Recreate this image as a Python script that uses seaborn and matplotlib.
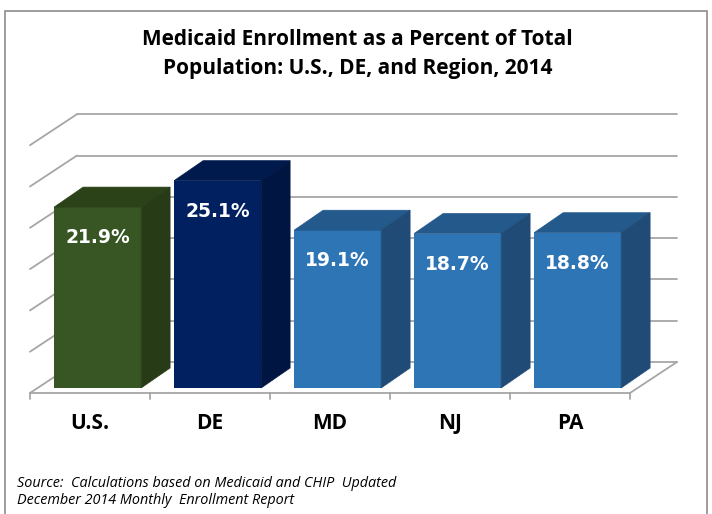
import matplotlib
matplotlib.use("Agg")
import matplotlib.pyplot as plt
import seaborn as sns
import pandas as pd
from matplotlib.patches import Polygon, Rectangle

# data
categories = ["U.S.", "DE", "MD", "NJ", "PA"]
values = [21.9, 25.1, 19.1, 18.7, 18.8]
value_labels = ["21.9%", "25.1%", "19.1%", "18.7%", "18.8%"]
y_ticks = [0, 5, 10, 15, 20, 25, 30]

title = "Medicaid Enrollment as a Percent of Total\nPopulation: U.S., DE, and Region, 2014"
source = "Source:  Calculations based on Medicaid and CHIP  Updated\nDecember 2014 Monthly  Enrollment Report"

# colours: front, top, side
front_colors = ["#375623", "#002060", "#2e75b6", "#2e75b6", "#2e75b6"]
top_colors = ["#2b4219", "#001a4e", "#24598c", "#24598c", "#24598c"]
side_colors = ["#263b16", "#001542", "#1f4b76", "#1f4b76", "#1f4b76"]
grid_color = "#a6a6a6"

sns.set_theme(style="white")
plt.rcParams["font.family"] = ["Open Sans", "DejaVu Sans"]

W, H = 712, 514
fig = plt.figure(figsize=(W / 100, H / 100), dpi=100)

# axes = front plane of the bars (pixel layout of the reference)
px_per_cat = 120.0
px_per_pct = 8.26
ax_left, ax_zero = 37.6, 388.0
ax = fig.add_axes([ax_left / W, (H - ax_zero) / H,
                   5 * px_per_cat / W, 30 * px_per_pct / H])

# depth offsets (data units)
back_dx, back_dy = 39.4 / px_per_cat, 26.0 / px_per_pct     # back wall
floor_dx, floor_dy = -7.6 / px_per_cat, -5.0 / px_per_pct   # front edge of floor
bar_dx, bar_dy = 29.0 / px_per_cat, 20.0 / px_per_pct       # bar depth

df = pd.DataFrame({"state": categories, "pct": values})

# back wall gridlines + left wall
for v in y_ticks:
    ax.plot([-0.5 + back_dx, 4.5 + back_dx], [v + back_dy, v + back_dy],
            color=grid_color, lw=1.3, clip_on=False, zorder=1)
    ax.plot([-0.5 + floor_dx, -0.5 + back_dx], [v + floor_dy, v + back_dy],
            color=grid_color, lw=1.3, clip_on=False, zorder=1)

# floor edges
ax.plot([-0.5 + floor_dx, 4.5 + floor_dx], [floor_dy, floor_dy],
        color=grid_color, lw=1.3, clip_on=False, zorder=1)
ax.plot([4.5 + floor_dx, 4.5 + back_dx], [floor_dy, back_dy],
        color=grid_color, lw=1.3, clip_on=False, zorder=1)
for i in range(len(categories) + 1):
    x = -0.5 + i + floor_dx
    ax.plot([x, x], [floor_dy, floor_dy - 0.7], color=grid_color, lw=1.3,
            clip_on=False, zorder=1)

sns.barplot(data=df, x="state", y="pct", hue="state", palette=front_colors,
            width=0.725, legend=False, ax=ax, zorder=3, saturation=1,
            linewidth=0)
ax.set_xlim(-0.5, 4.5)
ax.set_ylim(0, 30)
ax.axis("off")

for i, p in enumerate(ax.patches[:len(categories)]):
    x0 = p.get_x()
    x1 = x0 + p.get_width()
    h = p.get_height()
    top = Polygon([(x0, h), (x1, h), (x1 + bar_dx, h + bar_dy), (x0 + bar_dx, h + bar_dy)],
                  closed=True, fc=top_colors[i], ec=top_colors[i], lw=0.5,
                  clip_on=False, zorder=3)
    side = Polygon([(x1, 0), (x1 + bar_dx, bar_dy), (x1 + bar_dx, h + bar_dy), (x1, h)],
                   closed=True, fc=side_colors[i], ec=side_colors[i], lw=0.5,
                   clip_on=False, zorder=3)
    ax.add_patch(top)
    ax.add_patch(side)
    p.set_clip_on(False)
    ax.annotate(value_labels[i], xy=(p.get_x() + p.get_width() / 2, h),
                xytext=(0, -22), textcoords="offset points",
                ha="center", va="center", color="white", fontsize=13.5,
                fontweight="bold", family=["DejaVu Sans"], zorder=5)

# category labels on the floor front edge
for i, c in enumerate(categories):
    ax.text(i + floor_dx, floor_dy - 3.65, c, ha="center", va="center",
            fontsize=15, fontweight="bold", color="black", clip_on=False)

fig.text(0.502, 1 - 54 / H, title, ha="center", va="center", fontsize=15,
         fontweight="bold", linespacing=1.5, color="black")
fig.text(17 / W, 1 - 492 / H, source, ha="left", va="center", fontsize=10.4,
         style="italic", linespacing=1.25, color="black")

fig.add_artist(Rectangle((4.5 / W, -0.02), 702.5 / W, 1.02 - 10.5 / H,
                         transform=fig.transFigure, fill=False,
                         ec="#8c8c8c", lw=1.2))

fig.savefig("out.png", dpi=100, facecolor="white")
